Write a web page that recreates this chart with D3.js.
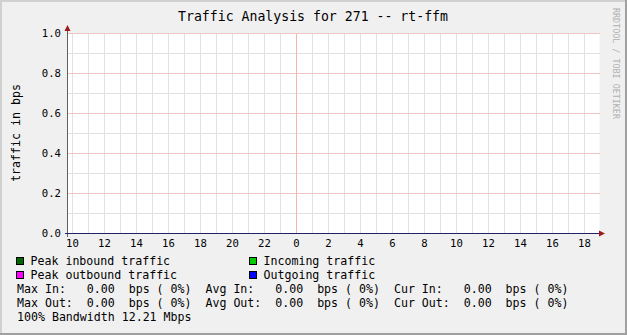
<!DOCTYPE html>
<html>
<head>
<meta charset="utf-8">
<script src="https://cdn.jsdelivr.net/npm/d3@7/dist/d3.min.js"></script>
<style>
  body { margin: 0; background: #fff; }
  svg text { font-family: "DejaVu Sans Mono", monospace; white-space: pre; }
</style>
</head>
<body>
<div id="chart"></div>
<script>
// hours since midnight of the first day
var hourTicks = [10, 12, 14, 16, 18, 20, 22, 24, 26, 28, 30, 32, 34, 36, 38, 40, 42];
var hourLabels = ["10", "12", "14", "16", "18", "20", "22", "0", "2", "4", "6", "8", "10", "12", "14", "16", "18"];
var yTicks = [0, 0.2, 0.4, 0.6, 0.8, 1.0];
var yLabels = ["0.0", "0.2", "0.4", "0.6", "0.8", "1.0"];

// samples (all zero in the picture)
var sampleHours = [10, 12, 14, 16, 18, 20, 22, 24, 26, 28, 30, 32, 34, 36, 38, 40, 42];
var incoming = [0, 0, 0, 0, 0, 0, 0, 0, 0, 0, 0, 0, 0, 0, 0, 0, 0];
var outgoing = [0, 0, 0, 0, 0, 0, 0, 0, 0, 0, 0, 0, 0, 0, 0, 0, 0];

var legendNames = ["Peak inbound traffic", "Incoming traffic", "Peak outbound traffic", "Outgoing traffic"];
var legendColors = ["#006600", "#00cc00", "#ff00ff", "#0000ff"];

var statLines = [
  "Max In:   0.00  bps ( 0%)  Avg In:   0.00  bps ( 0%)  Cur In:   0.00  bps ( 0%)",
  "Max Out:  0.00  bps ( 0%)  Avg Out:  0.00  bps ( 0%)  Cur Out:  0.00  bps ( 0%)",
  "100% Bandwidth 12.21 Mbps"
];

var width = 627, height = 335;

var svg = d3.select("#chart")
  .append("svg")
  .attr("width", width)
  .attr("height", height);

// background + frame
svg.append("rect").attr("width", width).attr("height", height).attr("fill", "#f0f0f0");
svg.append("rect").attr("x", 0).attr("y", 0).attr("width", width).attr("height", 2).attr("fill", "#d0d0d0");
svg.append("rect").attr("x", 0).attr("y", 0).attr("width", 2).attr("height", height).attr("fill", "#d0d0d0");
svg.append("rect").attr("x", width - 2).attr("y", 0).attr("width", 2).attr("height", height).attr("fill", "#a0a0a0");
svg.append("rect").attr("x", 0).attr("y", height - 2).attr("width", width).attr("height", 2).attr("fill", "#a0a0a0");

var x = d3.scaleLinear().domain([9.6875, 42.9375]).range([67.5, 599.5]);
var y = d3.scaleLinear().domain([0, 1]).range([233.5, 33.5]);

// plot area
svg.append("rect")
  .attr("x", x.range()[0]).attr("y", y.range()[1])
  .attr("width", x.range()[1] - x.range()[0])
  .attr("height", y.range()[0] - y.range()[1])
  .attr("fill", "#ffffff");

var grid = svg.append("g").attr("shape-rendering", "crispEdges");

// minor grid
grid.selectAll(".hminor")
  .data(d3.range(1, 10, 2).map(function(d) { return d / 10; }))
  .enter().append("line")
  .attr("x1", x.range()[0]).attr("x2", x.range()[1])
  .attr("y1", function(d) { return y(d); }).attr("y2", function(d) { return y(d); })
  .attr("stroke", "#e2e2e2");

grid.selectAll(".vminor")
  .data(d3.range(10, 43).filter(function(h) { return h !== 24; }))
  .enter().append("line")
  .attr("x1", function(d) { return x(d); }).attr("x2", function(d) { return x(d); })
  .attr("y1", y.range()[1]).attr("y2", y.range()[0])
  .attr("stroke", "#e2e2e2");

// major grid
grid.selectAll(".hmajor")
  .data(yTicks.slice(1))
  .enter().append("line")
  .attr("x1", x.range()[0]).attr("x2", x.range()[1])
  .attr("y1", function(d) { return y(d); }).attr("y2", function(d) { return y(d); })
  .attr("stroke", "#f0c4c4");

grid.append("line")
  .attr("x1", x(24)).attr("x2", x(24))
  .attr("y1", y.range()[1]).attr("y2", y.range()[0])
  .attr("stroke", "#f4b4b4");

// series
var area = d3.area()
  .x(function(d, i) { return x(sampleHours[i]); })
  .y0(y(0))
  .y1(function(d) { return y(d); });
svg.append("path").datum(incoming).attr("d", area).attr("fill", "#00cc00");

var line = d3.line()
  .x(function(d, i) { return x(sampleHours[i]); })
  .y(function(d) { return y(d); });
svg.append("path").datum(outgoing).attr("d", line)
  .attr("fill", "none").attr("stroke", "#0000ff");

// axes
var axes = svg.append("g").attr("shape-rendering", "crispEdges");
axes.append("line")
  .attr("x1", x.range()[0]).attr("x2", x.range()[0])
  .attr("y1", y(0) + 3).attr("y2", 29)
  .attr("stroke", "#606060");
axes.append("line")
  .attr("x1", x.range()[0] - 3).attr("x2", 600)
  .attr("y1", y(0)).attr("y2", y(0))
  .attr("stroke", "#22226a");

svg.append("path")
  .attr("d", "M" + (x.range()[0] - 3) + ",31 L" + x.range()[0] + ",25 L" + (x.range()[0] + 3) + ",31 Z")
  .attr("fill", "#a01a1a");
svg.append("path")
  .attr("d", "M599," + (y(0) - 3) + " L605," + y(0) + " L599," + (y(0) + 3) + " Z")
  .attr("fill", "#a01a1a");

// tick labels
svg.selectAll(".xlab")
  .data(hourTicks)
  .enter().append("text")
  .attr("x", function(d) { return x(d); })
  .attr("y", 247)
  .attr("text-anchor", "middle")
  .attr("font-size", "10.6px")
  .attr("fill", "#000")
  .text(function(d, i) { return hourLabels[i]; });

svg.selectAll(".ylab")
  .data(yTicks)
  .enter().append("text")
  .attr("x", 61)
  .attr("y", function(d) { return y(d) + 3.5; })
  .attr("text-anchor", "end")
  .attr("font-size", "10.6px")
  .attr("fill", "#000")
  .text(function(d, i) { return yLabels[i]; });

// title
svg.append("text")
  .attr("x", 313)
  .attr("y", 21)
  .attr("text-anchor", "middle")
  .attr("font-size", "13.2px")
  .attr("fill", "#000")
  .text("Traffic Analysis for 271 -- rt-ffm");

// y axis title
svg.append("text")
  .attr("transform", "translate(20,133) rotate(-90)")
  .attr("text-anchor", "middle")
  .attr("font-size", "11.6px")
  .attr("fill", "#000")
  .text("traffic in bps");

// watermark
svg.append("text")
  .attr("transform", "translate(613,8) rotate(90)")
  .attr("font-size", "8.4px")
  .attr("fill", "#b0b0b0")
  .text("RRDTOOL / TOBI OETIKER");

// legend
var legend = svg.selectAll(".legend")
  .data(legendNames)
  .enter().append("g")
  .attr("transform", function(d, i) {
    return "translate(" + (i % 2 === 0 ? 16.5 : 249.5) + "," + (257.5 + Math.floor(i / 2) * 14) + ")";
  });
legend.append("rect")
  .attr("width", 7).attr("height", 7)
  .attr("fill", function(d, i) { return legendColors[i]; })
  .attr("stroke", "#000")
  .attr("shape-rendering", "crispEdges");
legend.append("text")
  .attr("x", 14)
  .attr("y", 7)
  .attr("font-size", "11.6px")
  .attr("fill", "#000")
  .text(function(d) { return d; });

svg.selectAll(".stat")
  .data(statLines)
  .enter().append("text")
  .attr("x", 17)
  .attr("y", function(d, i) { return 292.5 + i * 14; })
  .attr("font-size", "11.6px")
  .attr("fill", "#000")
  .text(function(d) { return d; });
</script>
</body>
</html>
